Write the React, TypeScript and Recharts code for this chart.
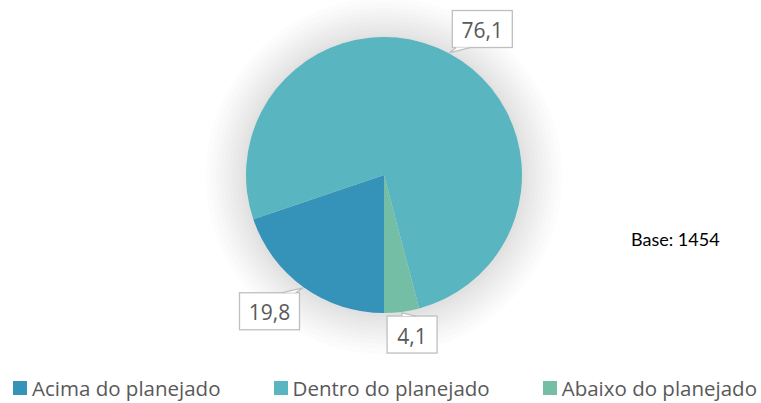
import { Cell, Legend, Pie, PieChart } from "recharts";

const categories = ["Acima do planejado", "Dentro do planejado", "Abaixo do planejado"];
const values = [19.8, 76.1, 4.1];
const valueLabels = ["19,8", "76,1", "4,1"];
const colors = ["#3593BA", "#59B5C0", "#74BEA6"];

const baseNote = "Base: 1454";

const data = categories.map((name, i) => ({ name, value: values[i], label: valueLabels[i] }));
const glowData = [{ name: "glow", value: 1 }];
// soft shadow is faked with stacked translucent discs
const glowRings = [3, 6, 10, 14, 18, 22, 26, 30, 35, 40];

const RAD = Math.PI / 180;
const TEXT = "#595959";
const BORDER = "#BFBFBF";

// label boxes were dragged by hand in the original, so nudge each one a bit
const labelNudge = [
  { angle: -4.4, dist: 178 },
  { angle: -5.7, dist: 176 },
  { angle: 2.6, dist: 162 },
];

const polar = (cx: number, cy: number, r: number, angle: number) => ({
  x: cx + r * Math.cos(-angle * RAD),
  y: cy + r * Math.sin(-angle * RAD),
});

const renderLabel = (props: any) => {
  const { cx, cy, midAngle, outerRadius, index } = props;
  const nudge = labelNudge[index];
  const text = valueLabels[index];
  const c = polar(cx, cy, nudge.dist, midAngle + nudge.angle);
  const tip = polar(cx, cy, outerRadius + 1, midAngle);
  const w = text.length * 10 + 20;
  const h = 37;
  const left = c.x - w / 2;
  const top = c.y - h / 2;

  // callout pointer sits on the side of the box facing the pie
  const edgeY = tip.y < top ? top : top + h;
  const bx = Math.min(Math.max(tip.x, left + 4), left + w - 18);
  const b1 = { x: bx, y: edgeY };
  const b2 = { x: bx + 14, y: edgeY };

  return (
    <g>
      <rect x={left} y={top} width={w} height={h} fill="#fff" stroke={BORDER} strokeWidth={1.3} />
      <polygon points={`${b1.x},${b1.y} ${tip.x},${tip.y} ${b2.x},${b2.y}`} fill="#fff" />
      <polyline
        points={`${b1.x},${b1.y} ${tip.x},${tip.y} ${b2.x},${b2.y}`}
        fill="none"
        stroke={BORDER}
        strokeWidth={1.3}
      />
      <text
        x={c.x}
        y={c.y + 1}
        textAnchor="middle"
        dominantBaseline="central"
        fill={TEXT}
        fontSize={21}
        fontFamily="'Open Sans', sans-serif"
      >
        {text}
      </text>
    </g>
  );
};

const renderLegend = () => (
  <div
    style={{
      display: "flex",
      justifyContent: "space-between",
      padding: "0 4px 0 13px",
      fontFamily: "'Open Sans', sans-serif",
      fontSize: 20.5,
      color: TEXT,
      lineHeight: "28px",
    }}
  >
    {categories.map((name, i) => (
      <div key={name} style={{ display: "flex", alignItems: "center" }}>
        <span
          style={{
            width: 14,
            height: 14,
            background: colors[i],
            marginRight: 5,
            display: "inline-block",
          }}
        />
        <span>{name}</span>
      </div>
    ))}
  </div>
);

export default function App() {
  return (
    <div style={{ position: "fixed", left: 0, top: 0, width: 761, height: 403, background: "#fff" }}>
      <PieChart width={761} height={403} margin={{ top: 0, right: 0, bottom: 0, left: 0 }}>
        {glowRings.map((r) => (
          <Pie
            key={`glow-${r}`}
            data={glowData}
            dataKey="value"
            nameKey="name"
            cx={384}
            cy={176}
            outerRadius={138 + r}
            startAngle={-90}
            endAngle={-450}
            fill="#000"
            fillOpacity={0.012}
            stroke="none"
            isAnimationActive={false}
            legendType="none"
          />
        ))}
        <Pie
          data={data}
          dataKey="value"
          nameKey="name"
          cx={384}
          cy={175}
          outerRadius={138}
          startAngle={-90}
          endAngle={-450}
          stroke="none"
          label={renderLabel}
          labelLine={false}
          isAnimationActive={false}
        >
          {data.map((d, i) => (
            <Cell key={d.name} fill={colors[i]} />
          ))}
        </Pie>
        <Legend
          content={renderLegend}
          wrapperStyle={{ position: "absolute", left: 0, top: 374, width: 761 }}
        />
      </PieChart>
      <div
        style={{
          position: "absolute",
          left: 631,
          top: 228,
          fontFamily: "Lato, sans-serif",
          fontWeight: 400,
          fontSize: 18,
          color: "#000",
        }}
      >
        {baseNote}
      </div>
    </div>
  );
}
